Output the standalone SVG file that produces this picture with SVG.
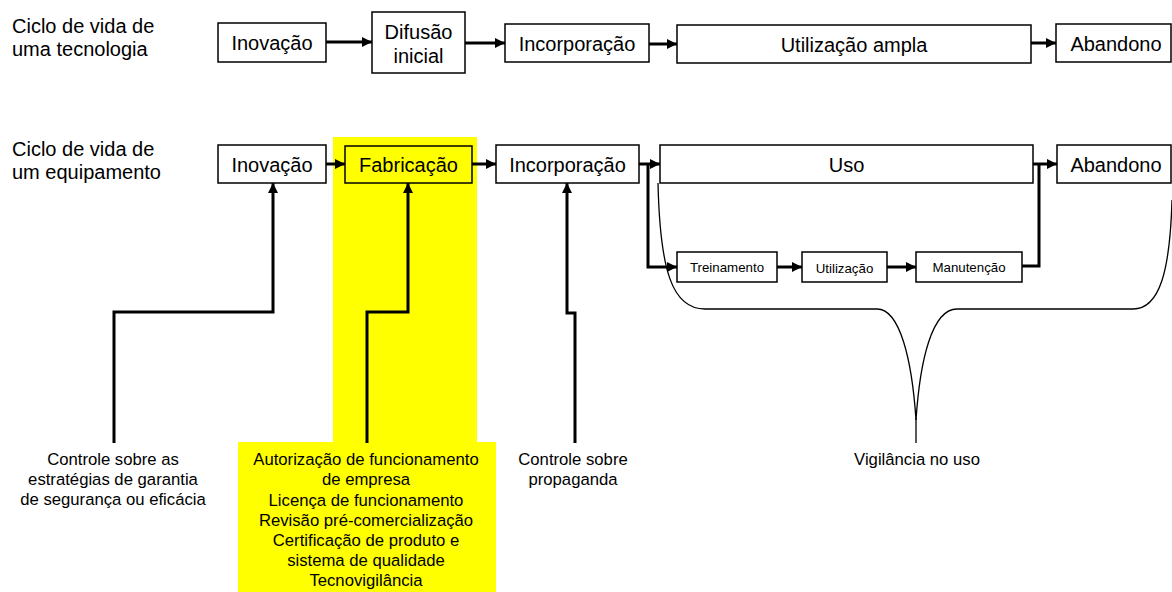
<svg xmlns="http://www.w3.org/2000/svg" width="1172" height="592" viewBox="0 0 1172 592">
<style>
.box{fill:#fff;stroke:#000;stroke-width:1.5}
.ybox{fill:#ffff00;stroke:#000;stroke-width:1.5}
.t{font-family:"Liberation Sans",Arial,sans-serif;font-size:20px;fill:#000}
.s{font-family:"Liberation Sans",Arial,sans-serif;font-size:16.7px;fill:#000;text-anchor:middle}
.xs{font-family:"Liberation Sans",Arial,sans-serif;font-size:13.3px;fill:#000;text-anchor:middle}
.m{text-anchor:middle}
.c{fill:none;stroke:#000;stroke-width:3}
.a{marker-end:url(#ah)}
.thin{fill:none;stroke:#000;stroke-width:1.3}
</style>
<defs>
<marker id="ah" viewBox="0 0 10 10" refX="10" refY="5" markerWidth="11" markerHeight="10" markerUnits="userSpaceOnUse" orient="auto">
<path d="M0,0 L10,5 L0,10 z" fill="#000"/>
</marker>
</defs>
<g id="highlight">
<rect x="333" y="137" width="144" height="306" fill="#ffff00"/>
<rect x="238" y="442" width="258" height="150" fill="#ffff00"/>
</g>
<g id="row-labels">
<text class="t" x="12" y="32.5">Ciclo de vida de</text>
<text class="t" x="12" y="55.5">uma tecnologia</text>
<text class="t" x="12" y="156">Ciclo de vida de</text>
<text class="t" x="12" y="179">um equipamento</text>
</g>
<g id="t-inovacao"><rect class="box" x="218" y="23" width="108" height="39"/><text class="t m" x="272" y="50">Inovação</text></g>
<g id="t-difusao"><rect class="box" x="372" y="12" width="93" height="61"/><text class="t m" x="418.5" y="39">Difusão</text><text class="t m" x="418.5" y="63">inicial</text></g>
<g id="t-incorporacao"><rect class="box" x="505" y="24" width="144" height="38"/><text class="t m" x="577" y="50.5">Incorporação</text></g>
<g id="t-utilizacao"><rect class="box" x="677" y="25" width="354" height="38"/><text class="t m" x="854" y="51.5">Utilização ampla</text></g>
<g id="t-abandono"><rect class="box" x="1056" y="24" width="115" height="38"/><text class="t m" x="1116" y="51">Abandono</text></g>
<g id="e-inovacao"><rect class="box" x="218" y="145" width="108" height="38"/><text class="t m" x="272" y="172">Inovação</text></g>
<g id="e-fabricacao"><rect class="ybox" x="345" y="146" width="127" height="37"/><text class="t m" x="408.5" y="172">Fabricação</text></g>
<g id="e-incorporacao"><rect class="box" x="496" y="145" width="143" height="38"/><text class="t m" x="567.5" y="172">Incorporação</text></g>
<g id="e-uso"><rect class="box" x="660" y="145" width="373" height="38"/><text class="t m" x="846.5" y="172">Uso</text></g>
<g id="e-abandono"><rect class="box" x="1057" y="145" width="114" height="38"/><text class="t m" x="1116" y="172">Abandono</text></g>
<g id="e-treinamento"><rect class="box" x="677" y="252" width="100" height="30"/><text class="xs" x="727" y="272">Treinamento</text></g>
<g id="e-utilizacao"><rect class="box" x="802" y="252" width="85" height="30"/><text class="xs" x="844.5" y="273">Utilização</text></g>
<g id="e-manutencao"><rect class="box" x="916" y="252" width="106" height="30"/><text class="xs" x="969" y="272">Manutenção</text></g>
<g id="lbl-controle1">
<text class="s" x="113" y="465">Controle sobre as</text>
<text class="s" x="113" y="485">estratégias de garantia</text>
<text class="s" x="113" y="505">de segurança ou eficácia</text>
</g>
<g id="lbl-fabricacao">
<text class="s" x="366" y="465">Autorização de funcionamento</text>
<text class="s" x="366" y="485">de empresa</text>
<text class="s" x="366" y="505.5">Licença de funcionamento</text>
<text class="s" x="366" y="526">Revisão pré-comercialização</text>
<text class="s" x="366" y="546">Certificação de produto e</text>
<text class="s" x="366" y="566">sistema de qualidade</text>
<text class="s" x="366" y="586">Tecnovigilância</text>
</g>
<g id="lbl-propaganda">
<text class="s" x="573" y="465">Controle sobre</text>
<text class="s" x="573" y="485">propaganda</text>
</g>
<g id="lbl-vigilancia">
<text class="s" x="917" y="465">Vigilância no uso</text>
</g>
<g id="connectors">
<path class="c a" d="M326,42 H372"/>
<path class="c a" d="M465,43 H505"/>
<path class="c a" d="M649,44 H677"/>
<path class="c a" d="M1031,43 H1056"/>
<path class="c a" d="M326,164 H345"/>
<path class="c a" d="M472,164 H496"/>
<path class="c a" d="M639,164 H660"/>
<path class="c a" d="M1033,164 H1057"/>
<path class="c a" d="M648,164 V267 H677"/>
<path class="c a" d="M777,267 H802"/>
<path class="c a" d="M887,267 H916"/>
<path class="c" d="M1022,266 H1039 V164"/>
<path class="c a" d="M114,443 V312 H273 V183"/>
<path class="c a" d="M367,443 V312 H408 V183"/>
<path class="c a" d="M575,443 V313 H567 V183"/>
<path class="thin" d="M658,183 C660,270 672,309 705,309 H877 C900,309 912,360 916,420 C920,360 932,309 957,309 H1133 C1160,309 1170,270 1172,200"/>
<path class="thin" d="M916,418 V443"/>
</g>
</svg>
